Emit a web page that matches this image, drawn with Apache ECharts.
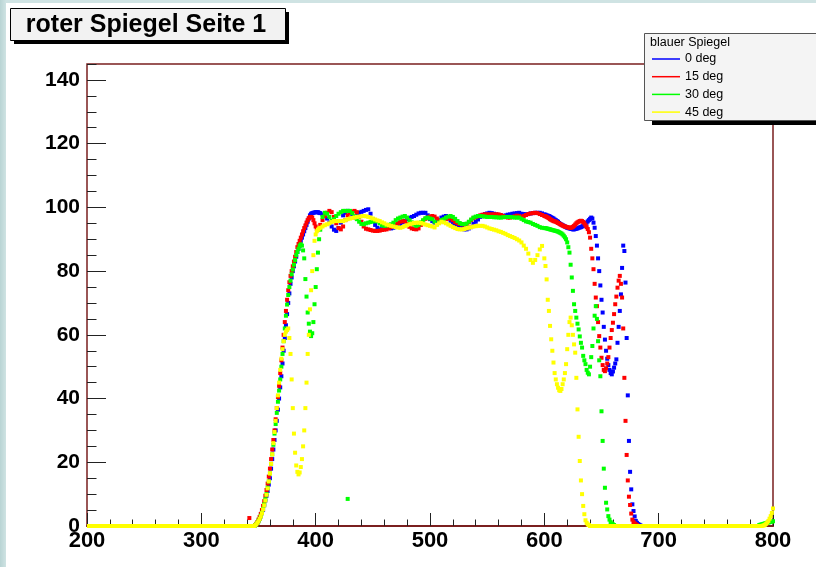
<!DOCTYPE html>
<html><head><meta charset="utf-8">
<script src="https://cdn.jsdelivr.net/npm/echarts@6/dist/echarts.min.js"></script>
<style>
html,body{margin:0;padding:0;width:816px;height:567px;overflow:hidden;background:linear-gradient(90deg,#b9d4d4 0px,#cfe3e3 6px);}
#paper{position:absolute;left:6px;top:3px;width:810px;height:564px;background:#fff;}
#chart{position:absolute;left:0;top:0;width:816px;height:567px;}
</style></head><body><div id="paper"></div><div id="chart"></div>
<script>
// ---- sampling grids (nm) ----
const riseStart = 346, riseStep = 1;   // 346 .. 404
const midStart = 406, midStep = 2;     // 406 .. 600
const fallStart = 601, fallStep = 1;   // 601 ..
const endWavelengths = [788,789,790,791,792,793,794,795,796,797,798,799,800];

// ---- series names / colours ----
const seriesNames = ['0 deg', '15 deg', '30 deg', '45 deg'];
const seriesColors = ['#0000ff', '#ff0000', '#00ff00', '#ffff00'];

// ---- 0 deg (blue) ----
const blueRise = [0,0.2,0.5,1,1.5,2.2,3,4,5,6.5,
  8,9.5,11,13,15,18,21,24,27,30,
  33,36.5,40,43.5,47,51,55,59,63,66.5,
  70,73,76,78,80,81.5,83,84.5,86,87,
  88,89.5,90.5,91.5,92.5,93.5,94.5,95.5,96.5,97.5,
  98,98.2,98.3,98.4,98.5,98.5,98.5,98.3,98.2];
const blueMid = [97.8,97.3,96.5,95.2,94,93,92.6,93.5,95.2,97.5,
  98.3,98.9,98.5,97.3,96.8,97.5,98.3,98.6,98.9,99.2,
  99.4,98,96.3,94.5,93.6,93.1,93.1,93.4,93.6,93.6,
  93.4,93.6,94,94.4,94.7,95.3,95.8,96.3,96.7,97,
  97.3,97.7,98.1,98.3,98.3,98.3,97.5,96.3,95.7,95.2,
  95.5,96,96.8,97.1,97.3,96.5,95.8,95,94.6,94.4,
  94.2,93.6,93.1,93.1,93.4,93.8,94.8,95.5,96.2,97,
  97.6,97.9,98.1,98.3,98.2,98,97.8,97.6,97.4,97.3,
  97.5,97.7,97.8,98,98.1,98.2,98.3,98,97.9,97.8,
  97.9,98.1,98.2,98.3,98.3,98.3,98.1,97.8];
const blueFall = [97.7,97.5,97.4,97.3,97.1,96.9,96.7,96.5,96.2,96,
  95.7,95.5,95.1,94.8,94.6,94.4,94.2,94,93.8,93.6,
  93.5,93.4,93.3,93.2,93.1,93.1,93.2,93.3,93.4,93.6,
  93.7,93.8,94,94.2,94.5,94.8,95.2,95.6,96,96.4,
  96.8,96.5,95.2,93.6,91,88,84,80,75.5,71,
  67,62.5,58.5,55,52.5,50.5,49,48,47.6,48.5,
  49.7,51,52.3,57.5,62.5,67.5,72.7,81,88,86.3,
  76.4,59,41,26.7,17,11.5,6.8,4.7,3,1.6,
  1,0.6,0.4,0.2];

// ---- 15 deg (red) ----
const redRise = [0,0.3,0.7,1.2,2,2.8,3.8,5,6.3,7.8,
  9.5,11.3,13.3,15.5,18,21,24,27,30,33.5,
  37,40.5,44,48,52,56,60,64,67.5,71,
  74,76.5,78.5,80,81.5,83,84.5,86,87.5,88.5,
  89.5,90.5,91.5,92.5,93.5,94.3,95.2,96,96.6,97,
  97,96.8,96,95,94,93.3,93.1,93.5,94.5];
const redMid = [96,97.3,98.3,98.9,98.5,97,95,93.5,93.1,94,
  96,97.5,98.3,98.7,98.9,98.5,97,95.5,94,93.3,
  93.1,92.9,92.7,92.6,92.6,92.7,92.9,93,93.1,93.4,
  93.8,94.2,94.7,95.1,95.5,95.7,95.6,94.8,93.9,93.4,
  93.2,93.1,93.4,94.5,95.7,96.4,96.8,97.1,97.3,97.1,
  96.5,95.9,95.7,96,96.4,96.6,96.5,96,95.4,95,
  94.8,94.7,94.6,94.8,95.3,96,96.6,96.9,97.2,97.5,
  97.7,97.8,97.8,97.8,97.8,97.8,97.8,97.8,97.6,97.3,
  97,96.8,96.8,97,97.2,97.4,97.3,97,97.3,97.6,
  97.9,98.1,98.2,98.3,98.2,97.9,97.6,97.3];
const redFall = [97.2,97,96.8,96.6,96.3,96.1,95.9,95.7,95.6,95.5,
  95.3,95.1,94.9,94.7,94.5,94.3,94.1,94,93.9,93.8,
  93.7,93.6,93.6,93.7,93.9,94.2,94.6,95,95.3,95.5,
  95.7,95.8,95.7,95.4,95,94.4,93.8,93.2,92.2,90.5,
  87,84,80.6,76,71.7,69,64,59.6,56,52.8,
  50.5,49,48.6,49.5,51,53,56,59,61.5,63.8,
  66.5,69.6,72,74.8,77,78.5,76,71.7,62,46.5,
  33,22.3,14.3,9.2,6.6,3.9,2,1.2,0.8,0.5,
  0.3];
const redOutlier = [342, 2.5];

// ---- 30 deg (green) ----
const greenRise = [0,0.2,0.5,1,1.6,2.3,3.2,4.2,5.4,6.8,
  8.4,10,12,14,16.5,19.5,22.5,25.5,29,32,
  35.5,39,42.5,46,50,54,58,62,66,69.5,
  72.5,75,77,79,80.5,82,83.5,85,86,87,
  88,88.4,88,86.5,84,77.5,72,67,63.5,61,
  59.6,60.5,64,69.6,75,80.6,85.8,90,93];
const greenMid = [97,98.3,98,97,95.8,96.3,97.3,98,98.5,98.9,
  98.9,98.9,98.9,98.2,97.2,96.3,95.5,94.8,94.7,95,
  95.2,95.4,95.6,95.7,95.6,95,94.4,94.2,94.3,94.5,
  94.7,95.2,96,96.5,96.8,97.1,97.3,96.8,96,95.3,
  94.6,94.2,94.5,95.3,96,96.6,96.8,96.5,96.3,95.5,
  94.7,95.3,96,96.3,96.8,97.1,97.3,97,96.4,95.7,
  95.1,94.8,94.7,94.9,95.5,96.2,96.8,97.1,97.3,97.3,
  97.2,97.1,97,97,97,96.9,96.9,96.8,96.8,96.9,
  97,97,97,96.9,96.8,96.8,96.8,96.4,96,95.6,
  95.4,95.2,94.8,94.5,94.2,93.8,93.6,93.5];
const greenFall = [93.5,93.4,93.3,93.2,93.1,93,92.9,92.8,92.7,92.6,
  92.5,92.4,92.2,92,91.8,91.5,91.1,90.6,90,89,
  87.5,85.8,82,78,73.8,69.6,67.5,65.4,63.5,61.7,
  59.5,57.5,56,53.4,52,50.8,49,48.1,47.6,50,
  53,56.5,62,66,69,65,58,52,47,36,
  26.7,18,12,7.3,5.2,3.1,2,1.2,0.8,0.5,
  0.3];
const greenEnd = [0.3,0.4,0.5,0.6,0.7,0.8,0.9,1,1.1,1.2,1.3,1.4,1.5];
const greenOutlier = [428, 8.5];

// ---- 45 deg (yellow) ----
const yellowRise = [0,0.2,0.5,1,1.5,2.2,3,4,5.2,6.5,
  8,9.8,11.8,14,16.5,19.5,22.5,26,29.5,33,
  37,41,45,49,52.5,55.5,58,60,61,61.5,
  62,59,54,46,37,29,23,19,17,16.2,
  16.8,18.5,21,25,30,37,45,54,60,68,
  74,80,85,89.5,91.5,92.5,93,93.4,93.6];
const yellowMid = [94,94.4,94.7,95,95.4,95.7,95.7,95.7,95.7,95.7,
  96,96.3,96.5,96.7,96.8,97,97.1,97.2,97.3,97.2,
  97,96.8,96.5,96.2,95.9,95.7,95.3,95,94.6,94.4,
  94.2,94,93.8,93.7,93.6,93.8,94.1,94.4,94.7,94.9,
  95.1,95.2,95.2,95.1,94.9,94.6,94.4,94.2,94,93.7,
  94.5,95,95.5,95.3,95,94.6,94.2,93.8,93.5,93.2,
  93.1,93.1,93.2,93.4,93.6,93.8,94,94.1,94.2,94.2,
  94.2,94,93.7,93.4,93.2,93,92.8,92.5,92.3,92,
  91.7,91.3,91,90.7,90.4,90,89.6,89,88,87,
  85.5,83.5,82.6,83.5,85,86.8,87.9,84];
const yellowFall = [81.6,77.4,71,67.5,62.8,58.6,55,51.3,48,46,
  44.5,43.4,42.6,42.4,43,44.5,46,48,50.8,55.5,
  60,64,65.4,63,60,57,54.4,46.5,36.6,28,
  20.4,14.3,10,6.3,3.7,1.8,1,0.5,0.3,0];
const yellowEnd = [0,0,0,0.1,0.2,0.4,0.7,1.1,1.6,2.3,3.1,4.1,5.5];
const yellowZeroSpans = [[200, 346], [640, 788]];

// ---- axis ticks ----
const xMin = 200, xMax = 800, xStep = 100;
const yMin = 0, yMax = 145, yStep = 20, yMinorStep = 5;

// ---- helpers (pairing values with their wavelengths) ----
function onGrid(start, step, values) {
  return values.map((v, i) => [start + i * step, v]);
}
function onList(wls, values) {
  return values.map((v, i) => [wls[i], v]);
}

const blueData = [].concat(onGrid(riseStart, riseStep, blueRise), onGrid(midStart, midStep, blueMid), onGrid(fallStart, fallStep, blueFall));
const redData = [redOutlier].concat(onGrid(riseStart, riseStep, redRise), onGrid(midStart, midStep, redMid), onGrid(fallStart, fallStep, redFall));
const greenData = [greenOutlier].concat(onGrid(riseStart, riseStep, greenRise), onGrid(midStart, midStep, greenMid), onGrid(fallStart, fallStep, greenFall), onList(endWavelengths, greenEnd));
const yellowData = [].concat(onGrid(riseStart, riseStep, yellowRise), onGrid(midStart, midStep, yellowMid), onGrid(fallStart, fallStep, yellowFall), onList(endWavelengths, yellowEnd));

const FONT = 'Liberation Sans, Arial, Helvetica, sans-serif';
const TICK = '#222';
const FRAME = '#7a1f1f';

function scatter(name, color, data, z) {
  return {
    name: name, type: 'scatter', data: data, symbol: 'rect', symbolSize: 4,
    itemStyle: { color: color, opacity: 1 }, silent: true, z: z,
    emphasis: { disabled: true }, clip: false
  };
}

const series = [
  scatter(seriesNames[0], seriesColors[0], blueData, 2),
  scatter(seriesNames[1], seriesColors[1], redData, 2),
  scatter(seriesNames[2], seriesColors[2], greenData, 2)
];
yellowZeroSpans.forEach(function (s, i) {
  series.push({
    name: 'yellow zero ' + i, type: 'line', data: [[s[0], 0], [s[1], 0]],
    symbol: 'none', lineStyle: { color: seriesColors[3], width: 4 }, silent: true, z: 3
  });
});
series.push(scatter(seriesNames[3], seriesColors[3], yellowData, 3));

const chart = echarts.init(document.getElementById('chart'), null, { renderer: 'canvas' });
chart.setOption({
  animation: false,
  backgroundColor: 'transparent',
  grid: {
    left: 87, right: 43, top: 64, bottom: 41, show: true,
    borderColor: FRAME, borderWidth: 1.5, backgroundColor: 'transparent',
    containLabel: false, outerBoundsMode: 'none'
  },
  xAxis: {
    type: 'value', min: xMin, max: xMax, interval: xStep,
    axisLine: { show: true, onZero: false, lineStyle: { color: FRAME, width: 2 } },
    axisTick: { show: true, inside: true, length: 13, lineStyle: { color: TICK, width: 1 } },
    minorTick: { show: true, splitNumber: 5, length: 6.5, lineStyle: { color: TICK, width: 1 } },
    splitLine: { show: false },
    axisLabel: { show: true, showMinLabel: true, showMaxLabel: true, fontFamily: FONT, fontWeight: 'bold', fontSize: 22, color: '#000', margin: 4 }
  },
  yAxis: [{
    type: 'value', min: yMin, max: yMax, interval: yStep, position: 'left',
    axisLine: { show: false },
    axisTick: { show: true, inside: true, length: 19, lineStyle: { color: TICK, width: 1 } },
    splitLine: { show: false },
    axisLabel: { show: true, showMinLabel: true, showMaxLabel: false, fontFamily: FONT, fontWeight: 'bold', fontSize: 21, color: '#000', margin: 7,
      formatter: function (v) { return (v % yStep === 0) ? String(v) : ''; } }
  }, {
    type: 'value', min: yMin, max: yMax, interval: yMinorStep, position: 'left',
    axisLine: { show: false },
    axisTick: { show: true, inside: true, length: 9.5, lineStyle: { color: TICK, width: 1 } },
    splitLine: { show: false }, axisLabel: { show: false }
  }],
  legend: {
    data: seriesNames, orient: 'vertical', left: 652, top: 52, icon: 'rect',
    itemWidth: 28, itemHeight: 1.5, itemGap: 3.7, padding: 0, selectedMode: false,
    textStyle: { fontFamily: FONT, fontSize: 12.5, color: '#000', lineHeight: 14 },
    z: 120
  },
  graphic: [
    { type: 'rect', z: 100, silent: true, shape: { x: 14, y: 12, width: 275, height: 32 }, style: { fill: '#000' } },
    { type: 'rect', z: 101, silent: true, shape: { x: 10.5, y: 8.5, width: 275, height: 32 }, style: { fill: '#f2f2f2', stroke: '#000', lineWidth: 1 } },
    { type: 'text', z: 102, silent: true, x: 146, y: 25, style: { text: 'roter Spiegel Seite 1', fontFamily: FONT, fontWeight: 'bold', fontSize: 25, fill: '#000', align: 'center', verticalAlign: 'middle' } },
    { type: 'rect', z: 100, silent: true, shape: { x: 652, y: 38, width: 170, height: 87 }, style: { fill: '#000' } },
    { type: 'rect', z: 101, silent: true, shape: { x: 644.5, y: 33.5, width: 175, height: 87 }, style: { fill: '#f4f4f4', stroke: '#555', lineWidth: 1 } },
    { type: 'text', z: 102, silent: true, x: 650, y: 43, style: { text: 'blauer Spiegel', fontFamily: FONT, fontSize: 12.5, fill: '#000', align: 'left', verticalAlign: 'middle' } }
  ],
  series: series
});
</script></body></html>
